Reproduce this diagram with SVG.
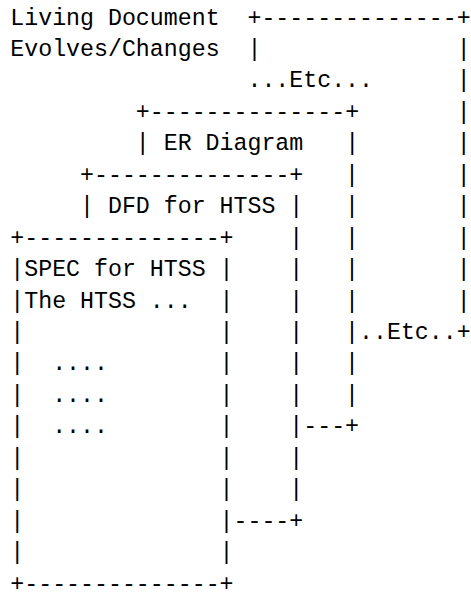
<svg xmlns="http://www.w3.org/2000/svg" width="471" height="599" viewBox="0 0 471 599" xml:space="preserve">
<style>
text{font-family:"Liberation Mono","Courier New",monospace;font-size:23.25px;fill:#000;white-space:pre}
</style>
<rect width="471" height="599" fill="#fff"/>
<g id="caption">
<text x="10.3" y="24.5">Living Document</text>
<text x="10.3" y="55.95">Evolves/Changes</text>
</g>
<g id="etc-outer">
<text x="247.45" y="24.5">+--------------+</text>
<text x="247.45" y="55.95">|</text>
<text x="247.45" y="87.4">...Etc...</text>
<text x="456.7" y="55.95">|</text>
<text x="456.7" y="87.4">|</text>
<text x="456.7" y="118.85">|</text>
<text x="456.7" y="150.3">|</text>
<text x="456.7" y="181.75">|</text>
<text x="456.7" y="213.2">|</text>
<text x="456.7" y="244.65">|</text>
<text x="456.7" y="276.1">|</text>
<text x="456.7" y="307.55">|</text>
<text x="359.05" y="339.0">..Etc..+</text>
</g>
<g id="er-diagram">
<text x="135.85" y="118.85">+--------------+</text>
<text x="135.85" y="150.3">| ER Diagram   |</text>
<text x="345.1" y="181.75">|</text>
<text x="345.1" y="213.2">|</text>
<text x="345.1" y="244.65">|</text>
<text x="345.1" y="276.1">|</text>
<text x="345.1" y="307.55">|</text>
<text x="345.1" y="339.0">|</text>
<text x="345.1" y="370.45">|</text>
<text x="345.1" y="401.9">|</text>
<text x="303.25" y="433.35">---+</text>
</g>
<g id="dfd">
<text x="80.05" y="181.75">+--------------+</text>
<text x="80.05" y="213.2">| DFD for HTSS |</text>
<text x="289.3" y="244.65">|</text>
<text x="289.3" y="276.1">|</text>
<text x="289.3" y="307.55">|</text>
<text x="289.3" y="339.0">|</text>
<text x="289.3" y="370.45">|</text>
<text x="289.3" y="401.9">|</text>
<text x="289.3" y="433.35">|</text>
<text x="289.3" y="464.8">|</text>
<text x="289.3" y="496.25">|</text>
<text x="233.5" y="527.7">----+</text>
</g>
<g id="spec">
<text x="10.3" y="244.65">+--------------+</text>
<text x="10.3" y="276.1">|SPEC for HTSS |</text>
<text x="10.3" y="307.55">|The HTSS ...  |</text>
<text x="10.3" y="339.0">|              |</text>
<text x="10.3" y="370.45">|  ....        |</text>
<text x="10.3" y="401.9">|  ....        |</text>
<text x="10.3" y="433.35">|  ....        |</text>
<text x="10.3" y="464.8">|              |</text>
<text x="10.3" y="496.25">|              |</text>
<text x="10.3" y="527.7">|              |</text>
<text x="10.3" y="559.15">|              |</text>
<text x="10.3" y="590.6">+--------------+</text>
</g>
</svg>
